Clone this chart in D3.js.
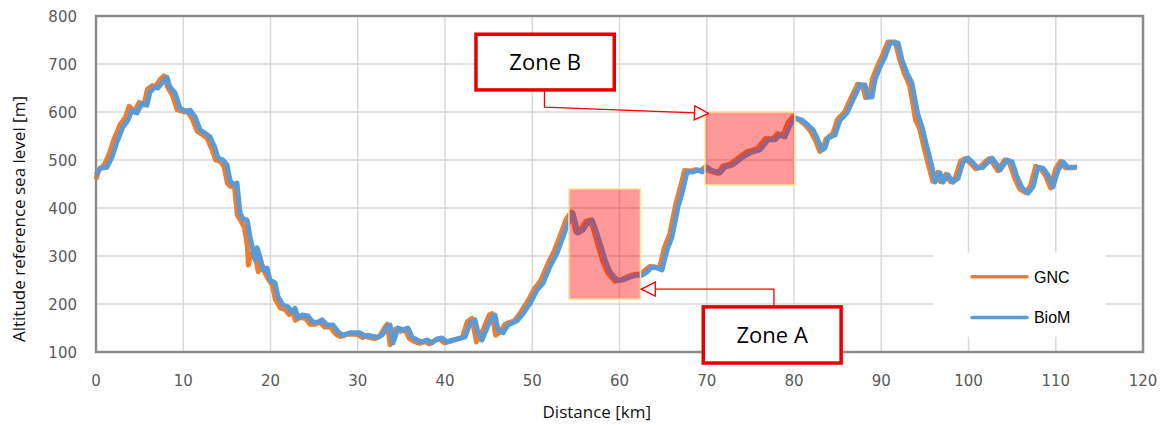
<!DOCTYPE html>
<html lang="en">
<head>
<meta charset="UTF-8">
<title>Altitude profile GNC vs BioM</title>
<script src="https://d3js.org/d3.v7.min.js"></script>
<style>
    body { margin: 0; background: #fff; }
    .tick-label { font-family: 'DejaVu Sans', sans-serif; font-size: 15px; fill: #595959; }
    .axis-title { font-family: 'Open Sans', sans-serif; font-size: 17px; fill: #111; }
    .zone-text { font-family: 'Open Sans', sans-serif; font-size: 22px; fill: #000; }
    .legend-text { font-family: 'Liberation Sans', Arial, sans-serif; font-size: 16px; fill: #000; }
</style>
</head>
<body>
<div id="chart"></div>
<script>
// ---- data ----
const xTicks = [0, 10, 20, 30, 40, 50, 60, 70, 80, 90, 100, 110, 120];
const yTicks = [100, 200, 300, 400, 500, 600, 700, 800];

const biomKm = [0, 0.46, 1.26, 1.83, 2.41, 3.09, 3.67, 4.13, 4.7, 5.27, 5.84, 6.19, 6.76, 7.1, 7.68, 8.14, 8.48, 9.05, 9.63, 10.43,
    10.77, 11.35, 11.92, 12.49, 13.07, 13.64, 13.98, 14.56, 15.01, 15.36, 15.7, 16.16, 16.5, 16.85, 17.31, 17.65, 17.99, 18.22, 18.45, 18.8,
    19.14, 19.6, 19.94, 20.52, 20.86, 21.43, 22.0, 22.46, 22.81, 23.15, 23.61, 24.3, 24.87, 25.44, 25.9, 26.48, 27.16, 27.74, 28.31, 29.11,
    30.26, 30.83, 31.06, 32.21, 32.78, 33.35, 33.7, 34.04, 34.61, 35.19, 35.76, 36.22, 36.79, 37.36, 37.94, 38.51, 39.08, 39.66, 40.23, 40.92,
    41.72, 42.29, 42.87, 43.44, 43.78, 44.24, 44.81, 45.39, 45.73, 46.07, 46.65, 47.22, 48.25, 48.94, 49.74, 50.54, 51.23, 52.03, 52.84, 53.52,
    54.1, 54.67, 55.24, 55.82, 56.39, 56.85, 57.19, 57.77, 58.34, 58.91, 59.71, 60.4, 61.2, 62.0, 62.58, 63.15, 63.72, 64.3, 64.87, 65.44,
    66.02, 66.7, 67.27, 67.73, 68.42, 69.03, 69.5, 70.06, 70.5, 71.52, 72.09, 73.0, 74.15, 74.96, 76.1, 77.02, 77.82, 78.4, 78.97, 79.54,
    80.11, 80.92, 81.6, 82.18, 82.64, 83.21, 83.55, 83.9, 84.7, 85.27, 86.07, 86.76, 87.56, 88.14, 88.48, 88.94, 89.28, 89.86, 90.43, 91.0,
    91.92, 92.38, 92.95, 93.52, 93.87, 94.21, 94.67, 95.24, 95.82, 96.16, 96.73, 97.08, 97.65, 98.22, 98.8, 99.37, 99.94, 100.52, 101.09, 101.66,
    102.23, 102.69, 103.27, 103.61, 104.41, 104.99, 105.56, 106.13, 106.82, 107.39, 107.97, 108.54, 109.11, 109.68, 110.26, 110.83, 111.4, 112.44];
const biomAlt = [469, 483, 485, 506, 538, 569, 583, 604, 598, 618, 614, 642, 652, 650, 663, 672, 652, 640, 608, 600,
    604, 590, 563, 556, 548, 525, 504, 500, 490, 458, 448, 452, 390, 378, 375, 340, 312, 292, 317, 298,
    271, 275, 250, 244, 215, 198, 194, 183, 191, 171, 177, 175, 162, 162, 167, 156, 156, 142, 135, 140,
    140, 133, 135, 131, 135, 152, 156, 119, 150, 146, 150, 131, 125, 121, 125, 119, 127, 129, 121, 125,
    129, 131, 160, 167, 140, 125, 150, 173, 177, 146, 140, 156, 165, 180, 201, 229, 243, 278, 306, 340,
    368, 390, 348, 354, 369, 375, 360, 327, 292, 267, 250, 250, 256, 260, 260, 267, 277, 275, 271, 312,
    340, 402, 438, 475, 475, 479, 475, 485, 479, 473, 485, 490, 506, 515, 521, 542, 542, 552, 548, 573,
    588, 583, 573, 563, 546, 521, 525, 546, 552, 583, 598, 625, 656, 656, 631, 631, 667, 694, 715, 744,
    744, 708, 681, 660, 625, 594, 569, 527, 485, 454, 473, 454, 469, 454, 462, 496, 504, 494, 483, 485,
    496, 504, 490, 479, 500, 496, 465, 442, 431, 444, 485, 483, 469, 444, 479, 496, 485, 485];

const gncKm = [0, 0.3, 0.95, 1.5, 2.1, 2.8, 3.35, 3.8, 4.4, 4.95, 5.5, 5.9, 6.45, 6.8, 7.35, 7.8, 8.2, 8.75, 9.3, 10.1,
    10.45, 11.05, 11.6, 12.2, 12.75, 13.35, 13.7, 14.25, 14.7, 15.05, 15.4, 15.85, 16.2, 16.55, 17.0, 17.35, 17.46, 17.7, 18.15, 18.6,
    18.85, 19.3, 19.65, 20.2, 20.55, 21.1, 21.7, 22.15, 22.5, 22.85, 23.3, 24.0, 24.55, 25.15, 25.6, 26.2, 26.85, 27.45, 28.0, 28.8,
    29.95, 30.55, 30.75, 31.9, 32.5, 33.05, 33.4, 33.7, 34.3, 34.9, 35.45, 35.9, 36.5, 37.05, 37.65, 38.2, 38.8, 39.35, 39.95, 40.6,
    41.4, 42.0, 42.55, 43.1, 43.6, 43.95, 44.5, 45.1, 45.4, 45.8, 46.35, 46.9, 47.95, 48.65, 49.45, 50.25, 50.95, 51.75, 52.55, 53.25,
    53.85, 54.45, 55.0, 55.6, 56.15, 56.6, 56.95, 57.5, 58.05, 58.65, 59.45, 60.15, 60.95, 61.75, 62.35, 62.9, 63.45, 64.05, 64.6, 65.15,
    65.75, 66.45, 67.0, 67.45, 68.15, 68.75, 69.25, 69.8, 70.25, 71.25, 71.85, 72.75, 73.9, 74.7, 75.85, 76.75, 77.55, 78.15, 78.7, 79.3,
    79.85, 80.65, 81.35, 81.9, 82.4, 82.95, 83.3, 83.65, 84.45, 85.0, 85.8, 86.5, 87.3, 87.85, 88.2, 88.65, 89.0, 89.6, 90.15, 90.75,
    91.6, 92.1, 92.65, 93.25, 93.6, 93.9, 94.4, 94.95, 95.55, 95.9, 96.45, 96.8, 97.4, 97.95, 98.5, 99.1, 99.65, 100.25, 100.8, 101.35,
    101.95, 102.4, 103.0, 103.35, 104.15, 104.7, 105.3, 105.85, 106.55, 107.1, 107.7, 108.25, 108.85, 109.4, 110.0, 110.55, 111.1, 112.2];
const gncAlt = [460, 478, 490, 512, 545, 575, 588, 612, 600, 620, 615, 648, 655, 652, 668, 675, 652, 635, 605, 600,
    603, 585, 560, 553, 545, 520, 500, 498, 485, 452, 445, 448, 385, 375, 360, 320, 281, 300, 312, 267,
    290, 268, 255, 240, 210, 192, 188, 178, 186, 166, 172, 170, 158, 158, 163, 152, 152, 138, 132, 137,
    137, 130, 133, 128, 132, 150, 158, 115, 148, 143, 147, 128, 122, 118, 122, 117, 124, 127, 119, 122,
    127, 130, 163, 170, 121, 130, 152, 178, 180, 135, 142, 158, 165, 182, 205, 232, 248, 282, 312, 345,
    375, 392, 350, 357, 372, 375, 360, 325, 290, 265, 248, 250, 257, 262, 262, 270, 278, 277, 275, 318,
    345, 408, 445, 478, 477, 480, 477, 485, 478, 472, 487, 492, 508, 518, 524, 545, 544, 555, 550, 578,
    590, 583, 572, 560, 543, 518, 522, 543, 555, 585, 600, 628, 658, 656, 630, 632, 670, 697, 718, 746,
    746, 710, 680, 655, 620, 585, 565, 522, 480, 456, 474, 455, 470, 455, 463, 498, 503, 493, 482, 486,
    497, 503, 488, 478, 500, 494, 462, 440, 432, 446, 487, 482, 467, 442, 482, 497, 484, 484];

// highlighted zones [x0, x1] km, [y0, y1] m
const zoneNames = ["Zone A", "Zone B"];
const zoneKm = [[54.2, 62.4], [69.8, 80.1]];
const zoneAlt = [[210, 440], [448, 600]];
// label boxes for the zones (km, m)
const labelKm = [[69.6, 85.4], [43.55, 59.4]];
const labelAlt = [[77, 194], [646, 762]];

// ---- layout ----
const W = 1167, H = 425;
const margin = {top: 16, right: 24, bottom: 73, left: 96};
const width = W - margin.left - margin.right;
const height = H - margin.top - margin.bottom;

const svg = d3.select("#chart").append("svg")
    .attr("width", W).attr("height", H);
const g = svg.append("g").attr("transform", `translate(${margin.left},${margin.top})`);

const x = d3.scaleLinear().domain([0, 120]).range([0, width]);
const y = d3.scaleLinear().domain([100, 800]).range([height, 0]);

// grid
g.append("g").selectAll("line").data(xTicks).join("line")
    .attr("x1", d => x(d)).attr("x2", d => x(d))
    .attr("y1", 0).attr("y2", height)
    .attr("stroke", "#d9d9d9").attr("stroke-width", 1.5);
g.append("g").selectAll("line").data(yTicks).join("line")
    .attr("x1", 0).attr("x2", width)
    .attr("y1", d => y(d)).attr("y2", d => y(d))
    .attr("stroke", "#d9d9d9").attr("stroke-width", 1.5);

// tick labels
g.append("g").selectAll("text").data(xTicks).join("text")
    .attr("class", "tick-label")
    .attr("x", d => x(d)).attr("y", height + 34)
    .attr("text-anchor", "middle")
    .text(d => d);
g.append("g").selectAll("text").data(yTicks).join("text")
    .attr("class", "tick-label")
    .attr("x", -19).attr("y", d => y(d) + 5.5)
    .attr("text-anchor", "end")
    .text(d => d);

// axis titles
g.append("text").attr("class", "axis-title")
    .attr("x", x(57.4)).attr("y", height + 66)
    .attr("text-anchor", "middle")
    .text("Distance [km]");
g.append("text").attr("class", "axis-title")
    .attr("transform", `translate(-71,${y(377)}) rotate(-90)`)
    .attr("text-anchor", "middle")
    .text("Altitude reference sea level [m]");

// series
const gnc = gncKm.map((d, i) => [d, gncAlt[i]]);
const biom = biomKm.map((d, i) => [d, biomAlt[i]]);
const line = d3.line().x(d => x(d[0])).y(d => y(d[1]));

g.append("path").datum(gnc).attr("d", line)
    .attr("fill", "none").attr("stroke", "#ED7D31")
    .attr("stroke-width", 5).attr("stroke-linejoin", "round");
g.append("path").datum(biom).attr("d", line)
    .attr("fill", "none").attr("stroke", "#5B9BD5")
    .attr("stroke-width", 5).attr("stroke-linejoin", "round");

// frame
g.append("rect")
    .attr("x", 0).attr("y", 0).attr("width", width).attr("height", height)
    .attr("fill", "none").attr("stroke", "#8c8c8c").attr("stroke-width", 2.5);

// zone overlays
g.append("g").selectAll("rect").data(zoneKm).join("rect")
    .attr("x", d => x(d[0]))
    .attr("width", d => x(d[1]) - x(d[0]))
    .attr("y", (d, i) => y(zoneAlt[i][1]))
    .attr("height", (d, i) => y(zoneAlt[i][0]) - y(zoneAlt[i][1]))
    .attr("fill", "rgba(255,0,0,0.4)")
    .attr("stroke", "#ffe699").attr("stroke-width", 1.5);

// legend
const lg = g.append("g");
lg.append("rect")
    .attr("x", x(96)).attr("y", y(307))
    .attr("width", x(115.7) - x(96)).attr("height", y(132) - y(307))
    .attr("fill", "#fff");
const legendItems = [{label: "GNC", color: "#ED7D31", alt: 257}, {label: "BioM", color: "#5B9BD5", alt: 172}];
legendItems.forEach(it => {
    lg.append("line")
        .attr("x1", x(100.4)).attr("x2", x(106.7))
        .attr("y1", y(it.alt)).attr("y2", y(it.alt))
        .attr("stroke", it.color).attr("stroke-width", 3.5).attr("stroke-linecap", "round");
    lg.append("text").attr("class", "legend-text")
        .attr("x", x(107.5)).attr("y", y(it.alt) + 6)
        .text(it.label);
});

// arrows
const defs = svg.append("defs");
defs.append("marker").attr("id", "tri")
    .attr("viewBox", "0 0 16 16").attr("refX", 15).attr("refY", 8)
    .attr("markerWidth", 16).attr("markerHeight", 16)
    .attr("markerUnits", "userSpaceOnUse").attr("orient", "auto")
    .append("path").attr("d", "M1,1 L15,8 L1,15 Z")
    .attr("fill", "#fff").attr("stroke", "#ff0000").attr("stroke-width", 1.3);

// Zone B connector: from label box down, then to top-left of zone B
const cb = [[51.4, labelAlt[1][0]], [51.4, 610], [70.2, 597]];
// Zone A connector: from label box up, then left to right edge of zone A
const ca = [[77.7, labelAlt[0][1]], [77.7, 231], [62.5, 231]];
[cb, ca].forEach(pts => {
    g.append("path").attr("d", d3.line().x(d => x(d[0])).y(d => y(d[1]))(pts))
        .attr("fill", "none").attr("stroke", "#ff0000").attr("stroke-width", 1.3)
        .attr("marker-end", "url(#tri)");
});

// zone label boxes
zoneNames.forEach((name, i) => {
    g.append("rect")
        .attr("x", x(labelKm[i][0])).attr("y", y(labelAlt[i][1]))
        .attr("width", x(labelKm[i][1]) - x(labelKm[i][0]))
        .attr("height", y(labelAlt[i][0]) - y(labelAlt[i][1]))
        .attr("fill", "#fff").attr("stroke", "#e60000").attr("stroke-width", 3.5);
    g.append("text").attr("class", "zone-text")
        .attr("x", (x(labelKm[i][0]) + x(labelKm[i][1])) / 2)
        .attr("y", (y(labelAlt[i][0]) + y(labelAlt[i][1])) / 2 + 8)
        .attr("text-anchor", "middle")
        .text(name);
});
</script>
</body>
</html>
